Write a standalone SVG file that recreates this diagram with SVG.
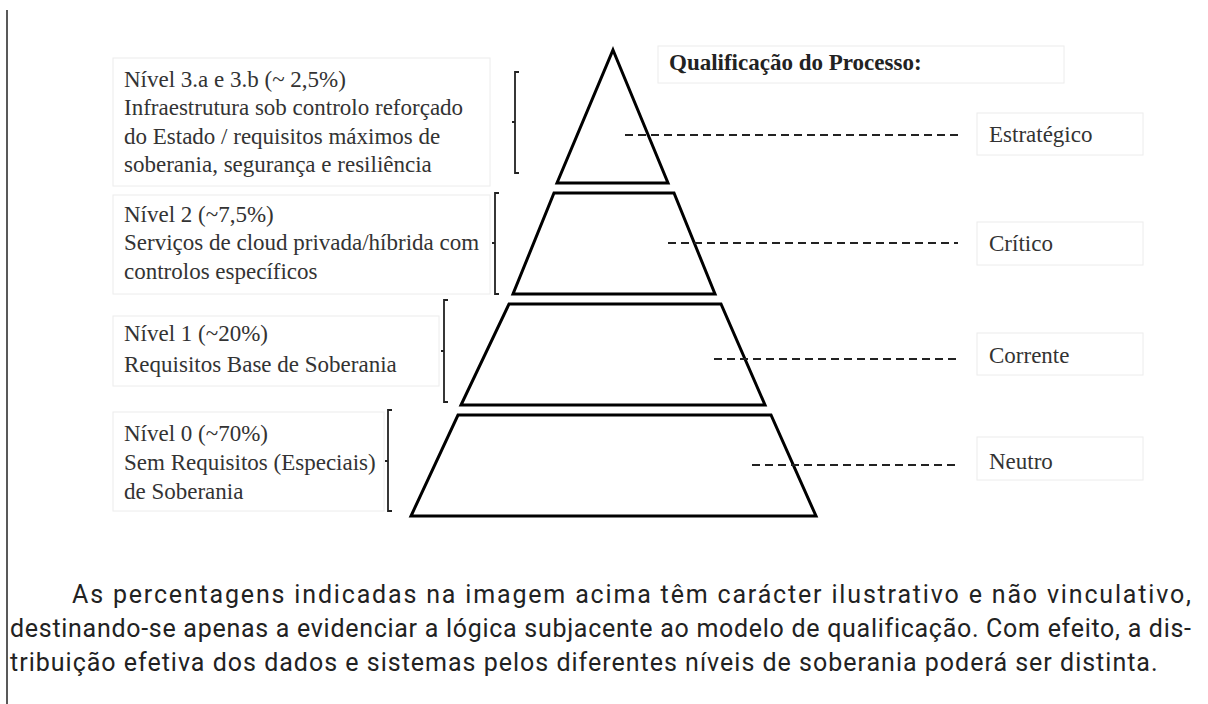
<svg xmlns="http://www.w3.org/2000/svg" width="1208" height="704" viewBox="0 0 1208 704">
<style>
.box{fill:#fff;stroke:#ececec;stroke-width:1}
.lbl{font-family:"Liberation Serif",serif;font-size:23px;fill:#333}
.ttl{font-family:"Liberation Serif",serif;font-size:23px;font-weight:bold;fill:#222}
.lvl{fill:#fff;stroke:#000;stroke-width:3;stroke-linejoin:miter}
.brk{fill:none;stroke:#222;stroke-width:1.8}
.dash{stroke:#222;stroke-width:2;stroke-dasharray:8 5;fill:none}
.body{font-family:Roboto,"Liberation Sans",sans-serif;font-size:25px;fill:#222;letter-spacing:1px}
</style>
<rect width="1208" height="704" fill="#fff"/>
<line x1="7" y1="10" x2="7" y2="704" stroke="#222" stroke-width="1.5"/>

<g id="desc3">
<rect class="box" x="113" y="58" width="377" height="128"/>
<text class="lbl" x="124" y="87">Nível 3.a e 3.b (~ 2,5%)</text>
<text class="lbl" x="124" y="115">Infraestrutura sob controlo reforçado</text>
<text class="lbl" x="124" y="144">do Estado / requisitos máximos de</text>
<text class="lbl" x="124" y="172">soberania, segurança e resiliência</text>
</g>
<g id="desc2">
<rect class="box" x="113" y="195" width="377" height="99"/>
<text class="lbl" x="124" y="222">Nível 2 (~7,5%)</text>
<text class="lbl" x="124" y="250">Serviços de cloud privada/híbrida com</text>
<text class="lbl" x="124" y="279">controlos específicos</text>
</g>
<g id="desc1">
<rect class="box" x="113" y="316" width="326" height="70"/>
<text class="lbl" x="124" y="341">Nível 1 (~20%)</text>
<text class="lbl" x="124" y="372">Requisitos Base de Soberania</text>
</g>
<g id="desc0">
<rect class="box" x="113" y="412" width="271" height="99"/>
<text class="lbl" x="124" y="441">Nível 0 (~70%)</text>
<text class="lbl" x="124" y="470">Sem Requisitos (Especiais)</text>
<text class="lbl" x="124" y="499">de Soberania</text>
</g>

<g id="brackets">
<path class="brk" d="M519,72 H515 V173 H519 M515,122 H512"/>
<path class="brk" d="M499,193 H495 V294 H499 M495,243 H492"/>
<path class="brk" d="M448,300 H444 V402 H448 M444,351 H441"/>
<path class="brk" d="M392,410 H388 V511 H392 M388,461 H385"/>
</g>

<g id="level3"><path class="lvl" d="M613,50 L668,183 L557,183 Z"/></g>
<g id="level2"><path class="lvl" d="M554,193 L674,193 L715,294 L513,294 Z"/></g>
<g id="level1"><path class="lvl" d="M509,304 L721,304 L765,405 L461,405 Z"/></g>
<g id="level0"><path class="lvl" d="M458,415 L771,415 L816,516 L411,516 Z"/></g>

<g id="title">
<rect class="box" x="658" y="46" width="406" height="37"/>
<text class="ttl" x="669" y="70">Qualificação do Processo:</text>
</g>

<g id="connectors">
<line class="dash" x1="625" y1="135" x2="958" y2="135"/>
<line class="dash" x1="668" y1="243" x2="958" y2="243"/>
<line class="dash" x1="714" y1="359" x2="958" y2="359"/>
<line class="dash" x1="752" y1="465" x2="958" y2="465"/>
</g>

<g id="q3">
<rect class="box" x="977" y="113" width="166" height="42"/>
<text class="lbl" x="989" y="142">Estratégico</text>
</g>
<g id="q2">
<rect class="box" x="977" y="222" width="166" height="43"/>
<text class="lbl" x="989" y="251">Crítico</text>
</g>
<g id="q1">
<rect class="box" x="977" y="333" width="166" height="42"/>
<text class="lbl" x="989" y="363">Corrente</text>
</g>
<g id="q0">
<rect class="box" x="977" y="437" width="166" height="43"/>
<text class="lbl" x="989" y="469">Neutro</text>
</g>

<g id="paragraph">
<text class="body" x="72" y="603" textLength="1120" lengthAdjust="spacing">As percentagens indicadas na imagem acima têm carácter ilustrativo e não vinculativo,</text>
<text class="body" x="10" y="637" textLength="1182" lengthAdjust="spacing">destinando-se apenas a evidenciar a lógica subjacente ao modelo de qualificação. Com efeito, a dis-</text>
<text class="body" x="10" y="671">tribuição efetiva dos dados e sistemas pelos diferentes níveis de soberania poderá ser distinta.</text>
</g>
</svg>
